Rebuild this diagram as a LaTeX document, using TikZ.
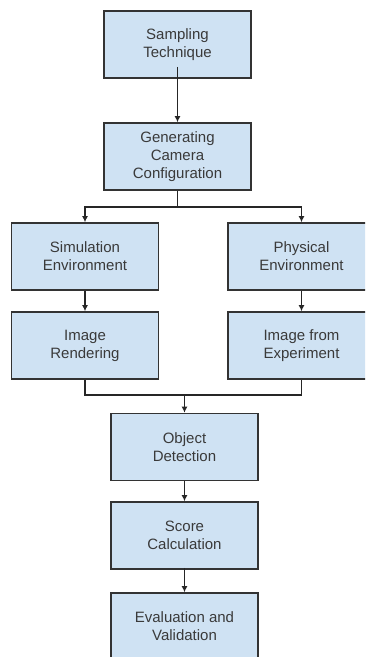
\documentclass[tikz,border=0pt]{standalone}
\usepackage{fontspec}
\setmainfont{Liberation Sans}
\usetikzlibrary{arrows.meta}
\definecolor{boxfill}{HTML}{CFE2F3}
\definecolor{boxline}{HTML}{333333}
\definecolor{boxtext}{HTML}{3A3A3A}
\tikzset{stage/.style={rectangle,draw=boxline,fill=boxfill,line width=1.6pt,minimum width=147pt,minimum height=67pt,align=center,text=boxtext,font=\fontsize{15pt}{18pt}\selectfont}}
\tikzset{link/.style={line width=1.5pt,draw=black!85,-{Latex[length=6pt,width=6pt]}}}
\tikzset{plain/.style={line width=1.5pt,draw=black!85}}

\begin{document}
\begin{tikzpicture}[x=1pt,y=-1pt]
    \useasboundingbox (0,0) rectangle (365,657);
    \clip (0,0) rectangle (365,657);
    \node[stage] (samp) at (177.5,44.5) {Sampling\\Technique};
    \node[stage] (gen) at (177.5,156.5) {Generating\\Camera\\Configuration};
    \node[stage] (sim) at (85,256.5) {Simulation\\Environment};
    \node[stage] (phys) at (301.5,256.5) {Physical\\Environment};
    \node[stage] (render) at (85,345.5) {Image\\Rendering};
    \node[stage] (expt) at (301.5,345.5) {Image from\\Experiment};
    \node[stage] (obj) at (184.5,447) {Object\\Detection};
    \node[stage] (score) at (184.5,535.5) {Score\\Calculation};
    \node[stage] (eval) at (184.5,626.5) {Evaluation and\\Validation};
    \coordinate (split) at (177.5,207);
    \coordinate (merge) at (184.5,395);
    \draw[link] ([yshift=12pt]samp.south) -- (gen);
    \draw[plain] (gen) -- (split);
    \draw[link] (split) -| (sim);
    \draw[link] (split) -| (phys);
    \draw[link] (sim) -- (render);
    \draw[link] (phys) -- (expt);
    % both image sources meet above the detector
    \draw[plain] (render) |- (merge);
    \draw[plain] (expt) |- (merge);
    \draw[link] (merge) -- (obj);
    \draw[link] (obj) -- (score);
    \draw[link] ([yshift=2pt]score.south) -- (eval);
\end{tikzpicture}
\end{document}
